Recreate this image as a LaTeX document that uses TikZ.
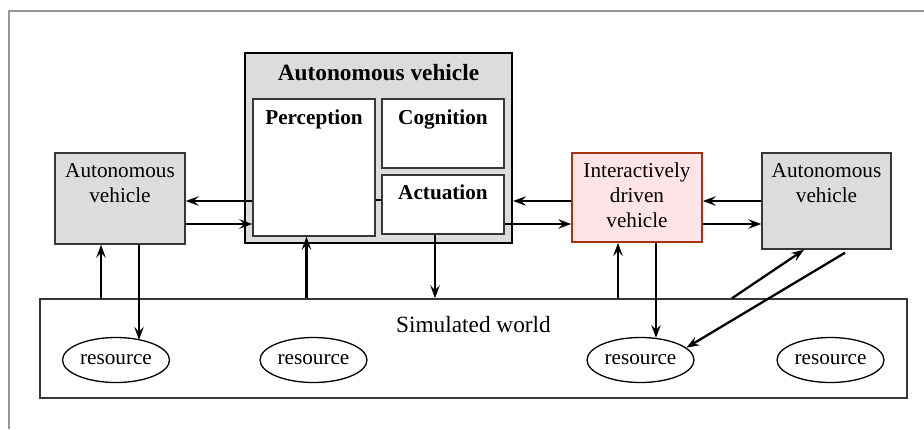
\documentclass[tikz,border=0pt]{standalone}
\usepackage{fontspec}
\setmainfont{Liberation Serif}
\usetikzlibrary{shapes.geometric,arrows.meta}
\definecolor{boxgray}{RGB}{220,220,220}
\definecolor{pinkfill}{RGB}{255,228,231}
\definecolor{pinkedge}{RGB}{165,52,20}
\definecolor{edgegray}{RGB}{55,55,55}
\definecolor{framegray}{RGB}{150,150,150}
\begin{document}
\begin{tikzpicture}[x=1pt,y=-1pt,
  every node/.style={font=\fontsize{21.2pt}{25pt}\selectfont},
  bigfont/.style={font=\fontsize{23.3pt}{27pt}\selectfont},
  toplab/.style={anchor=base, inner sep=0pt},
  mainbox/.style={draw=black, line width=2.2pt, fill=boxgray, inner sep=0pt},
  subbox/.style={draw=edgegray, line width=1.5pt, fill=white, inner sep=0pt},
  vbox/.style={draw=edgegray, line width=1.5pt, fill=boxgray, inner sep=0pt},
  hbox/.style={draw=pinkedge, line width=1.7pt, fill=pinkfill, inner sep=0pt},
  world/.style={draw=edgegray, line width=1.5pt, fill=white, inner sep=0pt},
  res/.style={ellipse, draw=black, line width=1.3pt, minimum width=107pt, minimum height=45pt, inner sep=0pt},
  arr/.style={line width=2.3pt, -{Stealth[length=13pt,width=9.5pt,inset=5pt]}},
  link/.style={line width=2.3pt}]
\useasboundingbox (0,0) rectangle (924,429);
\draw[framegray, line width=2pt] (9,429) -- (9,11) -- (924,11);

% main autonomous vehicle
\node[mainbox, minimum width=267pt, minimum height=190pt,
  label={[toplab, bigfont, yshift=-29pt]north:\bfseries Autonomous vehicle}] (av) at (378.5,148) {};
\node[subbox, minimum width=122pt, minimum height=137pt,
  label={[toplab, yshift=-26pt]north:\bfseries Perception}] (perc) at (314,167.5) {};
\node[subbox, minimum width=122pt, minimum height=69pt,
  label={[toplab, yshift=-26pt]north:\bfseries Cognition}] (cog) at (443,133.5) {};
\node[subbox, minimum width=122pt, minimum height=59pt,
  label={[toplab, yshift=-25pt]north:\bfseries Actuation}] (act) at (443,204.5) {};

% side vehicles
\node[vbox, minimum width=130pt, minimum height=91pt,
  label={[toplab, yshift=-25pt]north:\begin{tabular}[t]{@{}c@{}}Autonomous\\vehicle\end{tabular}}] (lav) at (120,198.5) {};
\node[hbox, minimum width=130pt, minimum height=89pt,
  label={[toplab, yshift=-25pt]north:\begin{tabular}[t]{@{}c@{}}Interactively\\driven\\vehicle\end{tabular}}] (idv) at (637,197.5) {};
\node[vbox, minimum width=129pt, minimum height=96pt,
  label={[toplab, yshift=-25pt]north:\begin{tabular}[t]{@{}c@{}}Autonomous\\vehicle\end{tabular}}] (rav) at (826.5,201) {};

% world
\node[world, minimum width=867pt, minimum height=99pt,
  label={[toplab, bigfont, yshift=-34pt]north:Simulated world}] (sim) at (473.5,348.5) {};
\node[res] (r1) at (116,360) {\raisebox{-2pt}{resource}};
\node[res] (r2) at (313.5,360) {\raisebox{-2pt}{resource}};
\node[res] (r3) at (640.5,360) {\raisebox{-2pt}{resource}};
\node[res] (r4) at (830.5,360) {\raisebox{-2pt}{resource}};

% helper coordinates
\coordinate (ya) at (0,201);
\coordinate (yb) at (0,224);
\coordinate (yc) at (0,200);
\coordinate (x1) at (101,0);
\coordinate (x2) at (139,0);
\coordinate (x3) at (306.5,0);
\coordinate (x4) at (435,0);
\coordinate (x5) at (618,0);
\coordinate (x6) at (656,0);
\coordinate (x7) at (732,0);
\coordinate (x8) at (804,0);
\coordinate (x9) at (845,0);
\coordinate (r1t) at ([yshift=-3pt]r1.north);
\coordinate (r3t) at ([yshift=-1pt]r3.north);
\coordinate (ravb) at ([yshift=-3pt]rav.south);

% horizontal connectors
\draw[arr] (perc.west |- ya) -- (lav.east |- ya);
\draw[arr] (lav.east |- yb) -- (perc.west |- yb);
\draw[link] (perc.east |- yc) -- (act.west |- yc);
\draw[arr] (idv.west |- ya) -- (av.east |- ya);
\draw[arr] (act.east |- yb) -- (idv.west |- yb);
\draw[arr] (rav.west |- ya) -- (idv.east |- ya);
\draw[arr] (idv.east |- yb) -- (rav.west |- yb);

% vertical connectors
\draw[arr] (sim.north -| x1) -- (lav.south -| x1);
\draw[arr] (lav.south -| x2) -- (r1t -| x2);
\draw[arr] (sim.north -| x3) -- (perc.south -| x3);
\draw[arr] (act.south -| x4) -- (sim.north -| x4);
\draw[arr] (sim.north -| x5) -- (idv.south -| x5);
\draw[arr] (idv.south -| x6) -- (r3t -| x6);
\draw[arr] (sim.north -| x7) -- (rav.south -| x8);
\draw[arr] (ravb -| x9) -- (r3.15);
\end{tikzpicture}
\end{document}
